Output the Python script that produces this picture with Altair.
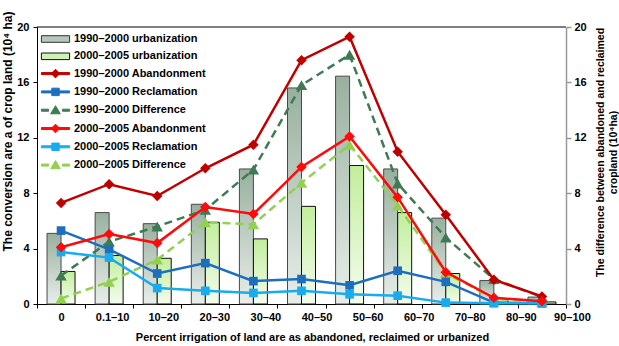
import altair as alt
import pandas as pd

categories = ["0", "0.1–10", "10–20", "20–30", "30–40", "40–50",
              "50–60", "60–70", "70–80", "80–90", "90–100"]

urban_1990_2000 = [5.1, 6.6, 5.8, 7.2, 9.75, 15.6, 16.45, 9.75, 6.2, 1.7, 0.5]
urban_2000_2005 = [2.35, 3.5, 3.3, 5.9, 4.7, 7.05, 10.0, 6.6, 2.2, 0.4, 0.15]

aband_1990_2000 = [7.3, 8.65, 7.8, 9.8, 11.5, 17.6, 19.3, 11.0, 6.45, 1.75, 0.55]
reclaim_1990_2000 = [5.3, 3.95, 2.2, 2.95, 1.65, 1.8, 1.35, 2.4, 1.6, 0.1, 0.05]
diff_1990_2000 = [2.05, 4.5, 5.6, 6.8, 9.7, 15.8, 18.0, 8.7, 4.8, 1.8, 0.5]

aband_2000_2005 = [4.1, 5.05, 4.4, 7.0, 6.5, 9.9, 12.1, 7.7, 2.3, 0.45, 0.2]
reclaim_2000_2005 = [3.75, 3.35, 1.15, 0.95, 0.8, 0.95, 0.7, 0.6, 0.1, 0.05, 0.05]
diff_2000_2005 = [0.4, 1.6, 3.2, 5.9, 5.75, 8.75, 11.5, 7.1, 2.25, 0.4, 0.15]

legend_names = ["1990–2000 urbanization", "2000–2005 urbanization",
                "1990–2000 Abandonment", "1990–2000 Reclamation", "1990–2000 Difference",
                "2000–2005 Abandonment", "2000–2005 Reclamation", "2000–2005 Difference"]

y_ticks = [0, 4, 8, 12, 16, 20]

# ---- styling ----
W, H = 529, 277
FONT = "Liberation Sans"
C_AB90, C_RE90, C_DF90 = "#C00000", "#1E6EBE", "#3E7B55"
C_AB00, C_RE00, C_DF00 = "#FF0A0A", "#18ACEE", "#92D050"
DASH = [8, 5]

grad_dark = alt.Gradient(gradient="linear",
                         stops=[alt.GradientStop(color="#98B09F", offset=0),
                                alt.GradientStop(color="#E9EEEA", offset=1)],
                         x1=0, x2=0, y1=0, y2=1)
grad_light = alt.Gradient(gradient="linear",
                          stops=[alt.GradientStop(color="#C2EE9C", offset=0),
                                 alt.GradientStop(color="#F4FCEE", offset=1)],
                          x1=0, x2=0, y1=0, y2=1)

def frame(vals):
    return pd.DataFrame({"cat": categories, "v": vals})

y_scale = alt.Scale(domain=[0, 20], nice=False, zero=True)

x_axis = alt.Axis(
    title="Percent irrigation of land are as abandoned, reclaimed or urbanized",
    labelAngle=0, tickBand="extent", domainColor="black", tickColor="black",
    tickSize=4, labelFontSize=11, labelFontWeight="bold", labelColor="black",
    labelPadding=3, labelOffset={"expr": "datum.index * 30"},
    titleFontSize=11, titleFontWeight="bold", titleColor="black",
    titlePadding=9, titleX=275)

def X():
    return alt.X("cat:N", sort=categories,
                 scale=alt.Scale(domain=categories, paddingInner=0, paddingOuter=0),
                 axis=x_axis)

y_left_axis = alt.Axis(
    title="The conversion are a of crop land (10⁴ ha)", orient="left",
    values=y_ticks, grid=False, domainColor="black", tickColor="black",
    tickSize=4, labelFontSize=11, labelFontWeight="bold", labelColor="black",
    labelPadding=4, titleAngle=270, titleX=-23, titleY=104,
    titleBaseline="bottom", titleAlign="center", titleFontSize=12,
    titleFontWeight="bold", titleColor="black")

y_right_axis = alt.Axis(
    title=["The difference between abandoned and reclaimed", "cropland (10⁴ha)"],
    orient="right", values=y_ticks, grid=False, domainColor="#999999",
    domainWidth=1.5, tickColor="#999999", tickWidth=1.5, tickSize=5,
    labelFontSize=11, labelFontWeight="bold", labelColor="black", labelPadding=3,
    titleAngle=270, titleX=29, titleY=125, titleBaseline="top", titleAlign="center",
    titleFontSize=10.5, titleFontWeight="bold", titleColor="black", titleLineHeight=13)

def Y(axis=None):
    return alt.Y("v:Q", scale=y_scale, axis=axis)

layers = []

layers.append(alt.Chart(frame(urban_1990_2000)).mark_bar(
    width=14, xOffset=-7, fill=grad_dark, stroke="#4a4a4a", strokeWidth=1
).encode(x=X(), y=Y(y_left_axis)))

layers.append(alt.Chart(frame(urban_2000_2005)).mark_bar(
    width=14, xOffset=7, fill=grad_light, stroke="#111111", strokeWidth=1
).encode(x=X(), y=Y()))

series = [
    (diff_1990_2000, C_DF90, DASH, "triangle-up", 130, y_right_axis),
    (diff_2000_2005, C_DF00, DASH, "triangle-up", 130, None),
    (reclaim_1990_2000, C_RE90, None, "square", 75, None),
    (reclaim_2000_2005, C_RE00, None, "square", 75, None),
    (aband_1990_2000, C_AB90, None, "diamond", 110, None),
    (aband_2000_2005, C_AB00, None, "diamond", 110, None),
]
for vals, col, dash, shape, size, ax in series:
    kw = dict(color=col, strokeWidth=2.5)
    if dash:
        kw["strokeDash"] = dash
    df = frame(vals)
    layers.append(alt.Chart(df).mark_line(**kw).encode(x=X(), y=Y(ax)))
    layers.append(alt.Chart(df).mark_point(
        shape=shape, size=size, filled=True, color=col, opacity=1
    ).encode(x=X(), y=Y()))

# top border of the plot frame
layers.append(alt.Chart(pd.DataFrame({"k": [0]})).mark_rule(
    color="black", strokeWidth=1
).encode(x=alt.value(0), x2=alt.value(W), y=alt.value(0)))

# legend (built from the series names only)
BAR = "M-2.35,-0.55H2.35V0.55H-2.35Z"
LINE = "M-2.35,-0.17H2.35V0.17H-2.35Z"
DLINE = "M-2.35,-0.17H-1.15V0.17H-2.35Z M1.15,-0.17H2.35V0.17H1.15Z"
DIA = "M0,-0.72L0.72,0L0,0.72L-0.72,0Z"
SQ = "M-0.62,-0.62H0.62V0.62H-0.62Z"
TRI = "M0,-0.75L0.8,0.6L-0.8,0.6Z"
legend_paths = [BAR, BAR, LINE + " " + DIA, LINE + " " + SQ, DLINE + " " + TRI,
                LINE + " " + DIA, LINE + " " + SQ, DLINE + " " + TRI]
legend_fills = ["#B7C7BC", "#CFF2B4", C_AB90, C_RE90, C_DF90, C_AB00, C_RE00, C_DF00]
legend_strokes = ["#333333", "#111111", C_AB90, C_RE90, C_DF90, C_AB00, C_RE00, C_DF00]

leg = alt.Legend(orient="none", legendX=12, legendY=5.5, title=None,
                 symbolSize=144, symbolStrokeWidth=1, symbolOpacity=1,
                 labelFont=FONT, labelFontSize=11, labelFontWeight="bold",
                 labelColor="black", labelOffset=12, rowPadding=5.3,
                 padding=0, labelLimit=400)

legend_df = pd.DataFrame({"name": legend_names})
layers.append(alt.Chart(legend_df).transform_filter("false").mark_point(
    filled=True, opacity=1
).encode(
    fill=alt.Fill("name:N", scale=alt.Scale(domain=legend_names, range=legend_fills), legend=leg),
    stroke=alt.Stroke("name:N", scale=alt.Scale(domain=legend_names, range=legend_strokes), legend=leg),
    shape=alt.Shape("name:N", scale=alt.Scale(domain=legend_names, range=legend_paths), legend=leg),
))

chart = alt.layer(*layers).properties(
    width=W, height=H,
    autosize=alt.AutoSizeParams(type="none"),
    padding={"left": 37, "top": 27, "right": 53, "bottom": 42},
    background="white",
).resolve_axis(y="independent").configure(font=FONT).configure_view(stroke=None)

chart.save("out.html", embed_options={"renderer": "svg", "actions": False})
